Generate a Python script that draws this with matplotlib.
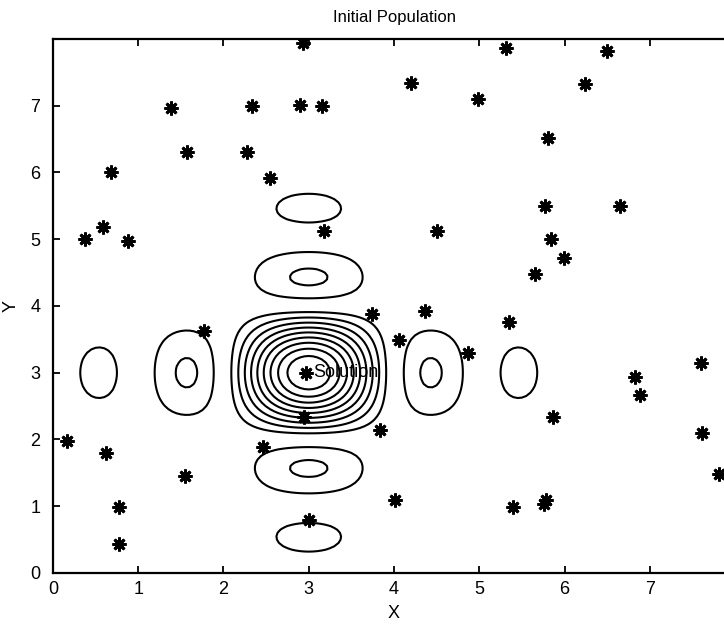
import numpy as np
import matplotlib.pyplot as plt

plt.rcParams['font.family'] = ['Liberation Sans', 'DejaVu Sans']

# population positions
pop_x = [0.17, 0.38, 0.59, 0.88, 0.68, 1.39, 1.57, 2.33, 2.27, 2.54, 2.90, 3.16, 2.93, 3.18,
         4.20, 4.99, 5.31, 6.50, 6.24, 5.81, 5.77, 6.65, 4.51, 5.84, 5.99, 5.65, 3.74, 4.36,
         5.35, 1.77, 0.62, 1.55, 0.78, 0.78, 2.97, 2.95, 2.46, 3.00, 4.06, 4.87, 7.60, 6.83,
         6.88, 5.87, 3.83, 7.61, 7.81, 4.01, 5.40, 5.76, 5.78]
pop_y = [1.97, 5.01, 5.18, 4.97, 6.00, 6.97, 6.30, 7.00, 6.30, 5.92, 7.01, 7.00, 7.94, 5.12,
         7.34, 7.10, 7.87, 7.82, 7.33, 6.51, 5.50, 5.50, 5.13, 5.00, 4.72, 4.48, 3.88, 3.92,
         3.76, 3.63, 1.79, 1.46, 0.99, 0.43, 3.00, 2.33, 1.88, 0.79, 3.49, 3.30, 3.15, 2.94,
         2.66, 2.34, 2.14, 2.10, 1.49, 1.10, 0.99, 1.04, 1.09]

solution = (3.0, 3.0)
levels = [-0.2, -0.1, 0.1, 0.2, 0.3, 0.4, 0.5, 0.6, 0.7, 0.8, 0.9]

# objective surface: separable sinc peak at the solution
gx = np.linspace(0, 8, 161)
gy = np.linspace(0, 8, 161)
X, Y = np.meshgrid(gx, gy)
Z = np.sinc(X - solution[0]) * np.sinc(Y - solution[1])

fig = plt.figure(figsize=(7.24, 6.32), dpi=100)
ax = fig.add_axes([0.0732, 0.0934, 0.942, 0.845])

ax.contour(X, Y, Z, levels=levels, colors='k', linewidths=1.5,
           negative_linestyles='solid')
ax.plot(pop_x, pop_y, linestyle='none', marker=(8, 2, 0), color='k',
        markersize=10, markeredgewidth=2.0)
ax.text(solution[0] + 0.05, solution[1], 'Solution', fontsize=13,
        ha='left', va='center')

ax.set_xlim(0, 8)
ax.set_ylim(0, 8)
ax.set_xticks(range(0, 8))
ax.set_yticks(range(0, 8))
ax.tick_params(direction='in', top=True, right=True, labelsize=13,
               length=5, width=1.3)
ax.tick_params(axis='y', pad=9)
ax.tick_params(axis='x', pad=6)
for s in ax.spines.values():
    s.set_linewidth(1.6)

ax.set_title('Initial Population', fontsize=12, pad=12)
ax.set_xlabel('X', fontsize=13, labelpad=5)
ax.set_ylabel('Y', fontsize=13, labelpad=8)

fig.savefig('out.png', dpi=100)
